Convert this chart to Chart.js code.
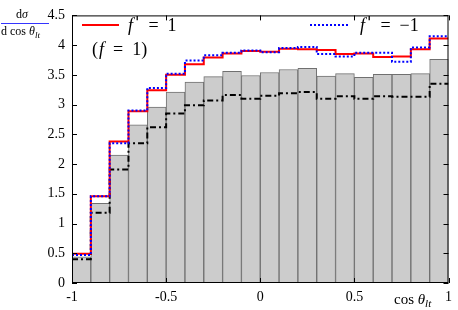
<!DOCTYPE html>
<html>
<head>
<meta charset="utf-8">
<script src="https://cdn.jsdelivr.net/npm/chart.js@4/dist/chart.umd.min.js"></script>
<style>
  html, body { margin: 0; padding: 0; background: #fff; }
  #wrap { width: 458px; height: 310px; }
</style>
</head>
<body>
<div id="wrap"><canvas id="c"></canvas></div>
<script>
// bin edges in cos(theta_lt), 20 bins of width 0.1
const binEdges = [-1, -0.9, -0.8, -0.7, -0.6, -0.5, -0.4, -0.3, -0.2, -0.1, 0, 0.1, 0.2, 0.3, 0.4, 0.5, 0.6, 0.7, 0.8, 0.9, 1];
// f' = 1 (red, solid)
const redVals  = [0.49, 1.46, 2.38, 2.89, 3.24, 3.50, 3.68, 3.79, 3.86, 3.90, 3.89, 3.94, 3.93, 3.92, 3.85, 3.86, 3.80, 3.81, 3.93, 4.11];
// f' = -1 (blue, dotted)
const blueVals = [0.47, 1.46, 2.35, 2.90, 3.28, 3.52, 3.74, 3.83, 3.87, 3.91, 3.88, 3.95, 3.97, 3.85, 3.81, 3.87, 3.87, 3.72, 3.96, 4.15];
// gray histogram
const grayVals = [0.44, 1.34, 2.15, 2.66, 2.96, 3.21, 3.38, 3.47, 3.56, 3.49, 3.54, 3.59, 3.61, 3.48, 3.52, 3.46, 3.51, 3.51, 3.52, 3.76];
// black dash-dot
const dashVals = [0.40, 1.18, 1.91, 2.35, 2.62, 2.85, 2.99, 3.07, 3.16, 3.10, 3.15, 3.19, 3.21, 3.10, 3.14, 3.10, 3.14, 3.13, 3.13, 3.35];
const xTicks = [-1, -0.5, 0, 0.5, 1];
const yTicks = [0, 0.5, 1, 1.5, 2, 2.5, 3, 3.5, 4, 4.5];

const SERIF = '"Liberation Serif", "DejaVu Serif", serif';

// step line: value of bin i starts at its left edge, last value repeated at x = 1
function stepPoints(vals) {
  const pts = vals.map((v, i) => ({ x: binEdges[i], y: v }));
  pts.push({ x: binEdges[vals.length], y: vals[vals.length - 1] });
  return pts;
}

// draw text pieces one after another: [text, font, dx, dy]
function drawParts(ctx, x, y, parts) {
  parts.forEach(p => {
    ctx.font = p[1];
    x += p[2] || 0;
    ctx.fillText(p[0], x, y + (p[3] || 0));
    x += ctx.measureText(p[0]).width;
  });
  return x;
}

const framePlugin = {
  id: 'frame',
  afterDraw(chart) {
    const { ctx, chartArea: a, scales } = chart;
    const x = scales.x, y = scales.y;
    ctx.save();
    ctx.strokeStyle = '#000';
    ctx.lineWidth = 1;
    ctx.strokeRect(a.left + 0.5, a.top + 0.5, a.right - a.left - 1, a.bottom - a.top - 1);
    ctx.beginPath();
    xTicks.forEach(v => {
      const px = Math.round(x.getPixelForValue(v)) + 0.5;
      ctx.moveTo(px, a.bottom); ctx.lineTo(px, a.bottom - 5);
      ctx.moveTo(px, a.top); ctx.lineTo(px, a.top + 5);
    });
    yTicks.forEach(v => {
      const py = Math.round(y.getPixelForValue(v)) + 0.5;
      ctx.moveTo(a.left, py); ctx.lineTo(a.left + 5, py);
      ctx.moveTo(a.right, py); ctx.lineTo(a.right - 5, py);
    });
    ctx.stroke();

    // legend
    const ds = chart.data.datasets;
    ctx.lineWidth = 2;
    ctx.strokeStyle = ds[1].borderColor;
    ctx.setLineDash([]);
    ctx.beginPath(); ctx.moveTo(82, 25); ctx.lineTo(119, 25); ctx.stroke();
    ctx.strokeStyle = ds[2].borderColor;
    ctx.setLineDash([2, 2]);
    ctx.beginPath(); ctx.moveTo(310, 25); ctx.lineTo(348, 25); ctx.stroke();
    ctx.setLineDash([]);

    ctx.fillStyle = '#000';
    ctx.textBaseline = 'alphabetic';
    ctx.textAlign = 'left';
    const it = 'italic 18px ' + SERIF, rm = '18px ' + SERIF, pr = '16px "DejaVu Sans"';
    drawParts(ctx, 128, 31, [['f', it], ["'", pr, 2, -3], ['\u2002=\u20021', rm]]);
    drawParts(ctx, 360, 31, [['f', it], ["'", pr, 2, -3], ['\u2002=\u2002\u22121', rm]]);
    drawParts(ctx, 92, 55, [['(', rm], ['f', it, 1], ['\u2002=\u20021)', rm]]);

    // y label as fraction
    const f1 = '12px ' + SERIF, f1i = 'italic 12px ' + SERIF, fs = 'italic 9px ' + SERIF;
    drawParts(ctx, 16, 18, [['d', f1], ['\u03c3', f1i]]);
    ctx.lineWidth = 0.8;
    ctx.beginPath(); ctx.moveTo(1, 23.5); ctx.lineTo(49, 23.5); ctx.stroke();
    let ex = drawParts(ctx, 1, 35, [['d cos ', f1], ['\u03b8', f1i]]);
    drawParts(ctx, ex, 38, [['lt', fs]]);

    // x label
    ex = drawParts(ctx, 394, 304, [['cos ', '15px ' + SERIF], ['\u03b8', 'italic 15px ' + SERIF]]);
    drawParts(ctx, ex, 307, [['lt', 'italic 11px ' + SERIF]]);
    ctx.restore();
  }
};

new Chart(document.getElementById('c'), {
  type: 'bar',
  data: {
    datasets: [
      {
        type: 'bar',
        data: grayVals.map((v, i) => ({ x: (binEdges[i] + binEdges[i + 1]) / 2, y: v })),
        backgroundColor: '#cccccc',
        borderColor: '#707070',
        borderWidth: 1,
        barPercentage: 1,
        categoryPercentage: 1,
        order: 4
      },
      {
        type: 'line',
        label: "f' = 1",
        data: stepPoints(redVals),
        stepped: 'before',
        borderColor: '#ff0000',
        borderWidth: 2,
        pointRadius: 0,
        fill: false,
        order: 2
      },
      {
        type: 'line',
        label: "f' = -1",
        data: stepPoints(blueVals),
        stepped: 'before',
        borderColor: '#0000ff',
        borderWidth: 2,
        borderDash: [2, 2],
        pointRadius: 0,
        fill: false,
        order: 1
      },
      {
        type: 'line',
        data: stepPoints(dashVals),
        stepped: 'before',
        borderColor: '#000000',
        borderWidth: 2,
        borderDash: [6, 3, 2, 3],
        pointRadius: 0,
        fill: false,
        order: 3
      }
    ]
  },
  options: {
    responsive: true,
    maintainAspectRatio: false,
    animation: false,
    layout: { padding: { top: 7, right: 6, left: 0, bottom: 0 } },
    plugins: { legend: { display: false }, tooltip: { enabled: false } },
    scales: {
      x: {
        type: 'linear',
        min: -1, max: 1,
        offset: false,
        grid: { display: false, drawTicks: false, offset: false },
        border: { display: false },
        afterBuildTicks: s => { s.ticks = xTicks.map(v => ({ value: v })); },
        afterFit: s => { s.height = 27; },
        ticks: {
          padding: 6,
          color: '#000',
          maxRotation: 0,
          autoSkip: false,
          font: { family: SERIF, size: 14 },
          callback: v => String(v)
        }
      },
      y: {
        min: 0, max: 4.5,
        grid: { display: false, drawTicks: false },
        border: { display: false },
        afterBuildTicks: s => { s.ticks = yTicks.map(v => ({ value: v })); },
        afterFit: s => { s.width = 72; },
        ticks: {
          padding: 7,
          color: '#000',
          autoSkip: false,
          font: { family: SERIF, size: 14 },
          callback: v => String(v)
        }
      }
    }
  },
  plugins: [framePlugin]
});
</script>
</body>
</html>
